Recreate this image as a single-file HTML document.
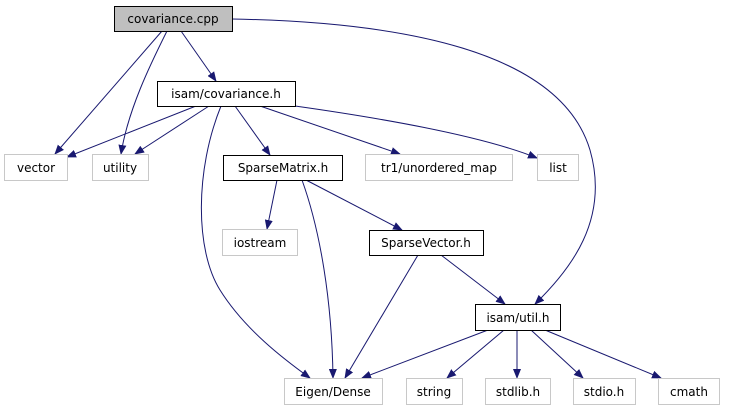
<!DOCTYPE html>
<html><head><style>
body{margin:0;background:#fff;}
svg text{font-family:"DejaVu Sans","Liberation Sans",sans-serif;font-size:12px;}
</style></head><body>
<svg width="748" height="411" viewBox="0 0 748 411" xmlns="http://www.w3.org/2000/svg">
<defs><marker id="a" markerWidth="10" markerHeight="8" refX="9" refY="4" orient="auto" markerUnits="userSpaceOnUse"><path d="M0,0 L10,4 L0,8 Z" fill="#191970"/></marker></defs>
<g fill="none" stroke="#191970" stroke-width="1" marker-end="url(#a)">
<path d="M162,31 L55,154"/>
<path d="M167,31 C150,65 128,110 121,154"/>
<path d="M181,31 L216,81"/>
<path d="M232,19 C400,22 560,50 590,150 C610,220 570,270 535,304"/>
<path d="M196,106 L67,157"/>
<path d="M209,106 L135,154"/>
<path d="M235,106 L270,155"/>
<path d="M260,106 L400,154"/>
<path d="M295,106 C380,118 480,135 537,158"/>
<path d="M221,106 C195,170 195,250 220,290 C245,330 285,360 310,378"/>
<path d="M277,180 L267,229"/>
<path d="M302,180 C320,230 332,300 333,378"/>
<path d="M306,180 L402,230"/>
<path d="M418,255 L345,378"/>
<path d="M441,255 L505,304"/>
<path d="M488,330 L362,378"/>
<path d="M504,330 L447,378"/>
<path d="M517,330 L517,378"/>
<path d="M531,330 L583,378"/>
<path d="M545,330 L661,378"/>
</g>
<g stroke-width="1">
<rect x="114.5" y="6.5" width="118" height="25" fill="#bfbfbf" stroke="#000"/>
<rect x="157.5" y="81.5" width="138" height="25" fill="#fff" stroke="#000"/>
<rect x="223.5" y="155.5" width="119" height="25" fill="#fff" stroke="#000"/>
<rect x="369.5" y="230.5" width="114" height="25" fill="#fff" stroke="#000"/>
<rect x="475.5" y="304.5" width="85" height="26" fill="#fff" stroke="#000"/>
<g fill="#fff" stroke="#c8c8c8">
<rect x="4.5" y="154.5" width="63" height="26"/>
<rect x="92.5" y="154.5" width="56" height="26"/>
<rect x="365.5" y="154.5" width="147" height="26"/>
<rect x="537.5" y="154.5" width="41" height="26"/>
<rect x="222.5" y="229.5" width="75" height="26"/>
<rect x="284.5" y="378.5" width="98" height="26"/>
<rect x="406.5" y="378.5" width="56" height="26"/>
<rect x="485.5" y="378.5" width="65" height="26"/>
<rect x="573.5" y="378.5" width="62" height="26"/>
<rect x="658.5" y="378.5" width="61" height="26"/>
</g>
</g>
<g text-anchor="middle" fill="#000">
<text x="173" y="23">covariance.cpp</text>
<text x="226" y="98">isam/covariance.h</text>
<text x="283" y="172">SparseMatrix.h</text>
<text x="426" y="247">SparseVector.h</text>
<text x="518" y="322">isam/util.h</text>
<text x="36" y="172">vector</text>
<text x="120" y="172">utility</text>
<text x="439" y="172">tr1/unordered_map</text>
<text x="558" y="172">list</text>
<text x="260" y="247">iostream</text>
<text x="333" y="396">Eigen/Dense</text>
<text x="434" y="396">string</text>
<text x="518" y="396">stdlib.h</text>
<text x="604" y="396">stdio.h</text>
<text x="689" y="396">cmath</text>
</g>
</svg>
</body></html>
